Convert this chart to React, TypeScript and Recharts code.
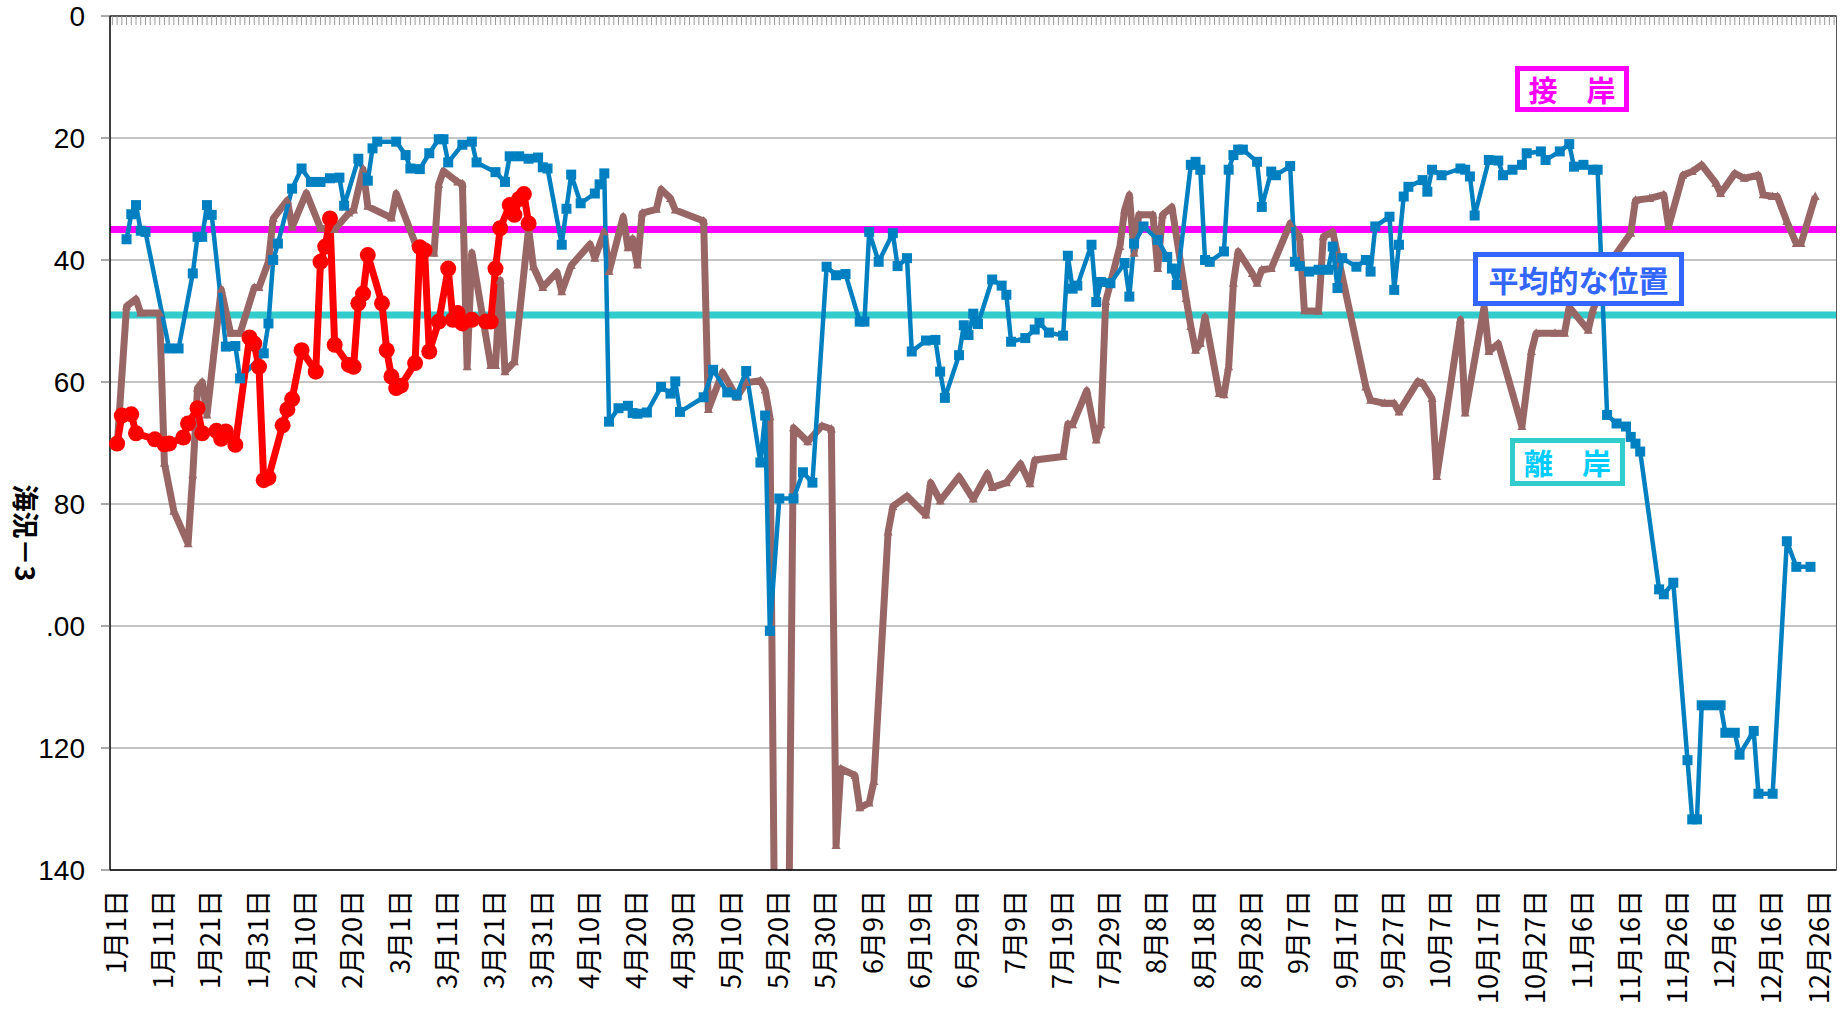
import React from "react";
import { CartesianGrid, Line, LineChart, ReferenceLine, XAxis, YAxis } from "recharts";

// 365 daily categories, labelled every 10 days
const DAYS = 365;
const tickLabels = [
  "1月1日", "1月11日", "1月21日", "1月31日", "2月10日", "2月20日", "3月1日", "3月11日",
  "3月21日", "3月31日", "4月10日", "4月20日", "4月30日", "5月10日", "5月20日", "5月30日",
  "6月9日", "6月19日", "6月29日", "7月9日", "7月19日", "7月29日", "8月8日", "8月18日",
  "8月28日", "9月7日", "9月17日", "9月27日", "10月7日", "10月17日", "10月27日", "11月6日",
  "11月16日", "11月26日", "12月6日", "12月16日", "12月26日",
];
const tickDays = tickLabels.map((_, i) => i * 10);
const yTicks = [0, 20, 40, 60, 80, 100, 120, 140];

// [day index, value]  (blue squares)
const blue: [number, number][] = [
  [3, 36.6], [4, 32.5], [5, 31.0], [6, 35.2], [7, 35.4], [12, 54.5], [14, 54.5],
  [17, 42.2], [18, 36.2], [19, 36.2], [20, 31.0], [21, 32.6], [24, 54.2], [26, 54.1], [27, 59.4],
  [32, 55.3], [33, 50.4], [34, 40.0], [35, 37.3], [38, 28.3], [40, 25.0], [42, 27.2], [44, 27.2],
  [46, 26.6], [48, 26.5], [49, 31.1], [52, 23.4], [54, 27.0], [55, 21.7], [56, 20.6], [60, 20.6],
  [62, 22.8], [63, 25.0], [65, 25.1], [67, 22.5], [69, 20.2], [70, 20.2], [71, 24.0], [74, 21.1],
  [76, 20.6], [77, 24.0], [81, 25.6], [83, 27.2], [84, 23.0], [86, 23.0], [88, 23.4], [90, 23.2],
  [91, 24.8], [92, 25.0], [95, 37.5], [96, 31.6], [97, 26.0], [99, 30.7], [102, 29.1], [103, 27.6],
  [104, 25.8], [105, 66.5], [107, 64.3], [109, 63.9], [110, 65.1], [111, 65.2], [113, 65.0],
  [116, 60.8], [118, 61.9], [119, 59.9], [120, 64.9], [125, 62.5], [127, 58.0], [130, 61.7],
  [132, 62.1], [134, 58.2], [137, 73.2], [138, 65.5], [139, 100.8], [141, 79.1], [144, 79.1],
  [146, 74.8], [148, 76.5], [151, 41.1], [153, 42.5], [155, 42.3], [158, 50.1], [159, 50.1],
  [160, 35.4], [162, 40.3], [165, 35.6], [166, 41.0], [168, 39.7], [169, 55.0], [172, 53.2],
  [174, 53.1], [175, 58.3], [176, 62.6], [179, 55.6], [180, 50.7], [181, 52.3], [182, 48.8],
  [183, 50.5], [186, 43.2], [188, 44.2], [189, 45.7], [190, 53.4], [193, 52.8], [195, 51.4],
  [196, 50.3], [198, 51.9], [201, 52.4], [202, 39.3], [203, 44.7], [204, 44.2], [207, 37.5],
  [208, 46.9], [209, 43.6], [211, 43.8], [214, 40.5], [215, 46.0], [216, 37.3], [218, 34.5],
  [221, 36.7], [223, 39.5], [224, 41.4], [225, 44.1], [228, 24.4], [229, 23.9], [230, 25.2],
  [231, 40.0], [232, 40.3], [235, 38.6], [236, 25.2], [237, 22.8], [238, 21.9], [239, 21.9],
  [242, 23.9], [243, 31.3], [245, 25.5], [246, 26.1], [249, 24.6], [250, 40.3], [251, 41.0],
  [253, 41.9], [255, 41.6], [257, 41.6], [258, 37.8], [259, 44.6], [260, 39.7], [263, 41.1],
  [265, 40.0], [266, 41.9], [267, 34.5], [270, 32.9], [271, 44.9], [272, 37.5], [273, 29.6],
  [274, 28.0], [277, 26.9], [278, 28.8], [279, 25.2], [281, 26.1], [285, 25.0], [286, 25.2],
  [287, 26.3], [288, 32.7], [291, 23.6], [293, 23.7], [294, 26.1], [296, 25.2], [298, 24.4],
  [299, 22.5], [302, 22.2], [303, 23.6], [306, 22.2], [308, 21.0], [309, 24.7], [311, 24.4],
  [313, 25.2], [314, 25.2], [316, 65.4], [318, 66.8], [320, 67.3], [321, 69.0], [322, 70.1],
  [323, 71.4], [327, 94.0], [328, 94.8], [330, 92.9], [333, 122.0], [334, 131.7], [335, 131.7],
  [336, 113.0], [338, 113.0], [340, 113.0], [341, 117.5], [343, 117.5], [344, 121.1], [347, 117.2],
  [348, 127.5], [351, 127.5], [354, 86.1], [356, 90.3], [359, 90.3],
];

// brown triangles (values past 140 run off the bottom)
const brown: [number, number][] = [
  [1, 70.6], [3, 47.6], [5, 46.4], [6, 48.7], [10, 48.7], [11, 73.3], [13, 81.2], [16, 86.5],
  [17, 75.2], [18, 61.0], [19, 60.0], [20, 65.4], [23, 44.8], [25, 52.0], [27, 52.0], [30, 44.5],
  [31, 44.5], [33, 40.3], [34, 33.2], [37, 30.2], [38, 34.6], [41, 29.0], [44, 34.8], [47, 35.0],
  [50, 32.3], [51, 31.8], [53, 25.1], [54, 31.2], [59, 33.1], [60, 29.1], [64, 37.2], [65, 38.1],
  [68, 38.9], [69, 27.6], [70, 25.4], [73, 27.2], [74, 27.5], [75, 57.5], [76, 38.8], [80, 57.3],
  [81, 57.3], [82, 43.3], [83, 58.3], [85, 56.7], [88, 34.8], [89, 41.1], [91, 44.5], [94, 42.0],
  [95, 45.2], [97, 40.9], [101, 37.4], [102, 39.7], [104, 35.4], [105, 41.9], [108, 32.9],
  [109, 38.0], [110, 36.5], [111, 40.8], [112, 32.3], [115, 31.7], [116, 28.4], [118, 29.9],
  [119, 31.8], [125, 33.6], [126, 64.5], [129, 58.4], [132, 62.5], [134, 60.1], [137, 59.8],
  [138, 61.3], [139, 65.7], [140, 150], [143, 150], [144, 67.5], [147, 69.8], [150, 67.2],
  [152, 67.7], [153, 136.0], [154, 123.4], [157, 124.5], [158, 129.8], [160, 129.0], [161, 125.5],
  [164, 84.6], [165, 80.4], [168, 78.7], [172, 81.8], [173, 76.5], [175, 79.5], [179, 75.5],
  [182, 79.2], [185, 75.0], [186, 77.3], [189, 76.5], [192, 73.4], [194, 76.7], [195, 72.8],
  [201, 72.2], [202, 66.9], [203, 67.0], [206, 61.4], [208, 69.5], [209, 67.0], [210, 46.8],
  [213, 37.8], [214, 31.8], [215, 29.3], [216, 38.9], [217, 32.6], [220, 32.6], [221, 41.4],
  [222, 32.6], [224, 31.3], [227, 46.3], [228, 50.9], [229, 54.8], [230, 53.7], [231, 49.3],
  [234, 61.9], [235, 62.1], [236, 57.5], [237, 43.8], [238, 38.6], [241, 42.2], [242, 43.8],
  [243, 41.6], [245, 41.4], [249, 34.0], [251, 36.2], [252, 48.3], [255, 48.4], [256, 36.2],
  [258, 35.4], [265, 60.8], [266, 63.0], [269, 63.5], [271, 63.5], [272, 64.9], [276, 59.9],
  [277, 60.2], [279, 62.7], [280, 75.5], [285, 49.8], [286, 65.1], [290, 47.7], [291, 55.0],
  [293, 53.7], [298, 67.3], [300, 55.0], [301, 52.0], [305, 52.0], [307, 52.0], [308, 47.7],
  [312, 51.5], [313, 48.2], [318, 38.9], [321, 35.6], [322, 30.2], [325, 29.9], [328, 29.3],
  [329, 34.5], [332, 26.1], [334, 25.5], [336, 24.4], [339, 27.4], [340, 29.1], [343, 25.8],
  [345, 26.6], [348, 26.1], [349, 29.3], [351, 29.6], [352, 29.6], [354, 33.7], [356, 37.3],
  [357, 37.3], [360, 29.6],
];

// red circles, Jan - Mar only
const red: [number, number][] = [
  [1, 70.1], [2, 65.5], [4, 65.3], [5, 68.4], [9, 69.4], [11, 70.2], [12, 70.1], [15, 69.1],
  [16, 66.8], [18, 64.3], [19, 68.4], [22, 68.0], [23, 69.3], [24, 68.1], [26, 70.3], [29, 52.7],
  [30, 53.7], [31, 57.5], [32, 76.1], [33, 75.7], [36, 67.1], [37, 64.5], [38, 62.8], [40, 54.8],
  [43, 58.3], [44, 40.3], [45, 37.8], [46, 33.2], [47, 53.9], [50, 57.2], [51, 57.5], [52, 47.1],
  [53, 45.5], [54, 39.2], [57, 47.1], [58, 54.8], [59, 59.1], [60, 61.0], [61, 60.6], [64, 56.9],
  [65, 37.9], [66, 38.4], [67, 55.0], [69, 50.1], [71, 41.4], [72, 49.8], [73, 48.7], [74, 50.4],
  [76, 49.8], [79, 50.1], [80, 50.1], [81, 41.4], [82, 34.8], [84, 31.0], [85, 32.6], [86, 30.0],
  [87, 29.2], [88, 34.0],
];

const nearLine = 35; // 接岸
const avgLine = 49; // 平均的な位置

const BLUE = "#0080C0";
const BROWN = "#996666";
const RED = "#FF0000";

function buildRows() {
  const b = new Map(blue);
  const br = new Map(brown);
  const r = new Map(red);
  const rows = [];
  for (let d = 0; d < DAYS; d++) {
    rows.push({ day: d, blue: b.get(d) ?? null, brown: br.get(d) ?? null, red: r.get(d) ?? null });
  }
  return rows;
}
const data = buildRows();

const SquareDot = (p: any) => {
  const { cx, cy, value, index } = p;
  if (value == null || cx == null || cy == null) return <g key={`b${index}`} />;
  return <rect key={`b${index}`} x={cx - 5} y={cy - 5} width={10} height={10} fill={BLUE} />;
};

const TriDot = (p: any) => {
  const { cx, cy, value, index } = p;
  if (value == null || cx == null || cy == null) return <g key={`t${index}`} />;
  return (
    <path
      key={`t${index}`}
      d={`M${cx},${cy - 5} L${cx + 4.5},${cy + 3.5} L${cx - 4.5},${cy + 3.5} Z`}
      fill={BROWN}
    />
  );
};

const CircleDot = (p: any) => {
  const { cx, cy, value, index } = p;
  if (value == null || cx == null || cy == null) return <g key={`c${index}`} />;
  return <circle key={`c${index}`} cx={cx} cy={cy} r={8} fill={RED} />;
};

// top axis: tick marks only, no text
const NoTick = () => <g />;

const DateTick = (p: any) => {
  const { x, payload } = p;
  const label = tickLabels[Math.round(payload.value / 10)];
  const tx = x + 2;
  const ty = 890;
  return (
    <text
      x={tx}
      y={ty}
      transform={`rotate(-90, ${tx}, ${ty})`}
      textAnchor="end"
      dominantBaseline="central"
      fontSize={27}
      fontFamily="'Noto Sans CJK JP', sans-serif"
      fill="#000"
    >
      {label}
    </text>
  );
};

const boxBase: React.CSSProperties = {
  position: "absolute",
  boxSizing: "border-box",
  background: "#fff",
  display: "flex",
  alignItems: "center",
  justifyContent: "center",
  fontFamily: "'Noto Sans CJK JP', sans-serif",
  fontWeight: 700,
  whiteSpace: "nowrap",
  lineHeight: 1,
};

const pad = { left: 2.365, right: 2.365 };

export default function App() {
  return (
    <div style={{ position: "absolute", left: 0, top: 0, width: 1842, height: 1017, background: "#fff" }}>
      <LineChart width={1842} height={1017} data={data} margin={{ top: 16, right: 4.5, bottom: 0, left: 0 }}>
        <CartesianGrid vertical={false} stroke="#8a8a8a" />
        <XAxis
          dataKey="day"
          type="category"
          height={147}
          padding={pad}
          ticks={tickDays}
          interval={0}
          tickLine={false}
          axisLine={{ stroke: "#000", strokeWidth: 1.5 }}
          tick={<DateTick />}
        />
        <XAxis
          xAxisId="top"
          dataKey="day"
          type="category"
          orientation="top"
          mirror
          padding={pad}
          interval={0}
          tick={NoTick}
          tickSize={9}
          tickLine={{ stroke: "#9a9a9a" }}
          axisLine={{ stroke: "#333", strokeWidth: 1.5 }}
        />
        <YAxis
          width={110}
          reversed
          domain={[0, 140]}
          allowDataOverflow
          ticks={yTicks}
          interval={0}
          tickSize={9}
          tickMargin={16}
          tickFormatter={(v: number) => (v === 100 ? ".00" : String(v))}
          tick={{ fontSize: 28, fill: "#000", fontFamily: "'Liberation Sans', Arial, sans-serif" }}
          tickLine={{ stroke: "#555" }}
          axisLine={{ stroke: "#000", strokeWidth: 1.5 }}
        />
        <YAxis
          yAxisId="right"
          orientation="right"
          width={1}
          domain={[0, 140]}
          tick={false}
          tickLine={false}
          axisLine={{ stroke: "#595959" }}
        />
        <ReferenceLine y={nearLine} stroke="#FF00FF" strokeWidth={7} />
        <ReferenceLine y={avgLine} stroke="#33CCCC" strokeWidth={7} />
        <Line
          dataKey="brown"
          stroke={BROWN}
          strokeWidth={7}
          strokeLinejoin="round"
          connectNulls
          dot={TriDot}
          activeDot={false}
          isAnimationActive={false}
        />
        <Line
          dataKey="blue"
          stroke={BLUE}
          strokeWidth={4.5}
          strokeLinejoin="round"
          connectNulls
          dot={SquareDot}
          activeDot={false}
          isAnimationActive={false}
        />
        <Line
          xAxisId="top"
          dataKey="red"
          stroke={RED}
          strokeWidth={7}
          strokeLinejoin="round"
          connectNulls
          dot={CircleDot}
          activeDot={false}
          isAnimationActive={false}
        />
      </LineChart>

      <div
        style={{
          position: "absolute",
          left: 26,
          top: 533,
          transform: "translate(-50%, -50%) rotate(90deg)",
          fontFamily: "'Noto Sans CJK JP', sans-serif",
          fontWeight: 700,
          fontSize: 27,
          whiteSpace: "nowrap",
          color: "#000",
        }}
      >
        海況－3
      </div>

      <div style={{ ...boxBase, left: 1515, top: 66, width: 114, height: 46, border: "5px solid #FF00FF", color: "#FF00FF", fontSize: 29 }}>
        接　岸
      </div>
      <div style={{ ...boxBase, left: 1473, top: 252, width: 211, height: 54, border: "5px solid #3366FF", color: "#3366FF", fontSize: 30 }}>
        平均的な位置
      </div>
      <div style={{ ...boxBase, left: 1510, top: 438, width: 115, height: 48, border: "5px solid #33CCCC", color: "#00CCFF", fontSize: 29 }}>
        離　岸
      </div>
    </div>
  );
}
